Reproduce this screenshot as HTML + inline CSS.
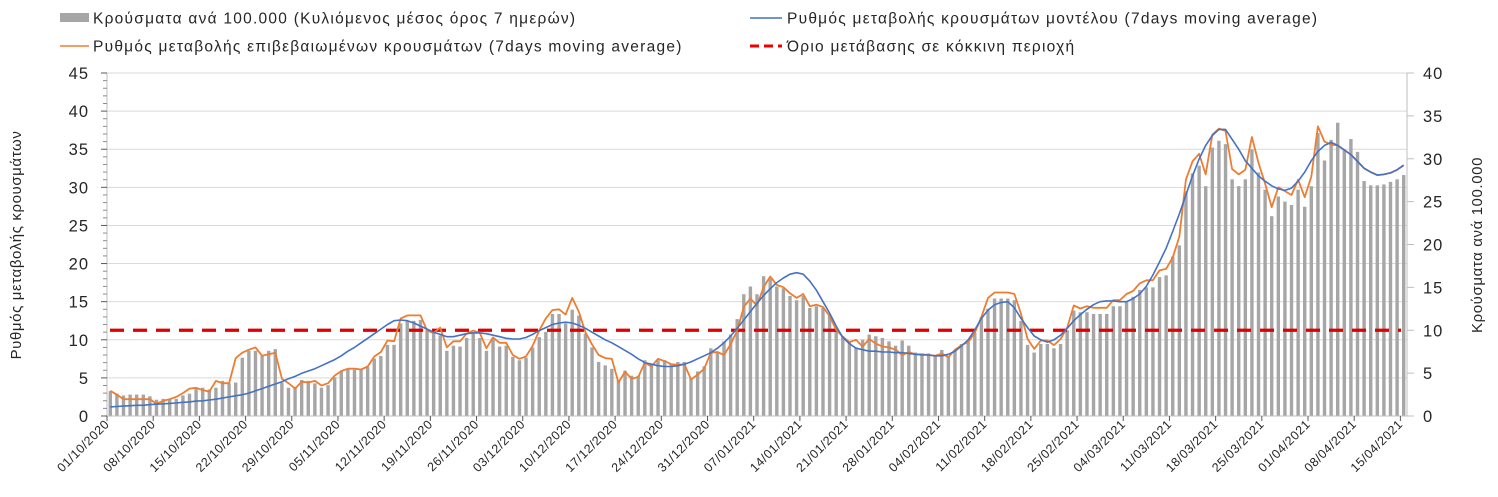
<!DOCTYPE html>
<html><head><meta charset="utf-8"><style>
body{margin:0;background:#fff;}
svg{display:block;font-family:"Liberation Sans",sans-serif;}
</style></head><body>
<svg id="chart" width="1498" height="497" viewBox="0 0 1498 497" xmlns="http://www.w3.org/2000/svg">
<g id="legend" font-size="15.5" fill="#262626" letter-spacing="1.25">
 <g><rect x="60" y="13" width="29" height="9" fill="#a6a6a6"/><text x="93" y="23.5">Κρούσματα ανά 100.000 (Κυλιόμενος μέσος όρος 7 ημερών)</text></g>
 <g><line x1="750" y1="18" x2="782" y2="18" stroke="#4472c4" stroke-width="1.5"/><text x="787" y="23.5">Ρυθμός μεταβολής κρουσμάτων μοντέλου (7days moving average)</text></g>
 <g><line x1="60" y1="46" x2="89" y2="46" stroke="#ed7d31" stroke-width="1.5"/><text x="93" y="51.5">Ρυθμός μεταβολής επιβεβαιωμένων κρουσμάτων (7days moving average)</text></g>
 <g><line x1="750" y1="46" x2="782" y2="46" stroke="#e00" stroke-width="3" stroke-dasharray="9,5"/><text x="787" y="51.5">Όριο μετάβασης σε κόκκινη περιοχή</text></g>
</g>
<text transform="translate(21,245) rotate(-90)" text-anchor="middle" font-size="15" letter-spacing="0.6" fill="#262626">Ρυθμός μεταβολής κρουσμάτων</text>
<text transform="translate(1482,245) rotate(-90)" text-anchor="middle" font-size="15" letter-spacing="0.6" fill="#262626">Κρούσματα ανά 100.000</text>
<g id="grid"></g>
<g id="bars"></g>
<g id="axes"></g>
<g id="lines"></g>
</svg>
<script>
const startDate = [2020, 10, 1];
const leftTicks = [0,5,10,15,20,25,30,35,40,45];
const rightTicks = [0,5,10,15,20,25,30,35,40];
const threshold = 10;
const cases = [2.9,2.6,2.4,2.5,2.5,2.5,2.3,1.9,2.0,2.0,2.0,2.4,2.6,3.2,3.3,3.1,3.3,4.1,3.8,3.9,6.8,7.6,7.6,7.0,7.6,7.8,3.9,3.3,3.4,4.2,4.1,3.8,3.3,3.6,4.5,5.2,5.5,5.4,5.4,5.7,6.7,7.0,8.3,8.3,10.8,11.1,11.1,11.2,10.0,9.8,9.4,7.6,8.2,8.1,9.1,9.8,9.1,7.6,9.1,8.1,8.2,6.9,6.5,6.8,8.0,9.2,9.8,11.9,11.9,10.8,12.4,11.7,9.6,8.0,6.3,5.9,5.5,4.2,5.3,4.7,4.7,6.5,6.0,6.5,6.5,6.1,6.3,6.3,4.4,5.2,5.8,7.9,7.5,8.7,9.5,11.3,14.2,15.1,14.2,16.3,16.0,15.1,14.9,14.0,13.5,14.0,12.6,12.8,12.6,11.8,10.3,9.3,8.6,8.0,8.9,9.5,9.3,9.1,8.7,8.2,8.8,8.2,7.4,7.3,7.3,7.1,7.7,6.9,7.7,8.4,8.6,9.7,11.5,12.5,13.7,13.7,13.7,13.5,11.1,8.3,7.4,8.4,8.4,7.9,8.4,10.0,12.3,12.1,12.1,11.9,11.9,11.9,12.8,12.8,13.3,13.9,14.7,15.0,15.0,16.2,16.4,18.6,19.9,26.2,28.3,29.2,26.8,31.3,32.1,31.7,27.6,26.8,27.6,31.1,28.4,26.4,23.3,25.6,25.0,24.6,26.4,24.4,26.8,33.0,29.8,32.2,34.2,31.1,32.3,30.8,27.4,26.9,26.9,27.0,27.3,27.6,28.1];
const confirmedRate = [3.3,2.8,2.2,2.2,2.2,2.2,2.2,1.6,2.0,2.2,2.5,3.0,3.6,3.7,3.4,3.2,4.6,4.3,4.3,7.6,8.3,8.7,9.0,7.9,8.1,8.3,4.9,4.3,3.6,4.5,4.4,4.6,4.0,4.3,5.3,5.9,6.2,6.2,6.1,6.5,7.8,8.4,9.9,9.8,12.8,13.2,13.2,13.2,11.2,10.9,11.6,9.0,9.8,9.8,10.8,11.2,10.9,8.9,10.3,9.6,9.6,8.0,7.5,7.8,9.2,11.2,12.8,13.9,14.0,13.3,15.5,13.7,11.0,9.4,8.0,7.6,7.5,4.4,5.8,4.9,5.1,7.0,6.5,7.5,7.2,6.8,6.7,6.8,4.8,5.4,6.2,8.3,8.4,8.0,9.4,11.2,14.3,15.4,14.5,16.9,18.3,17.2,16.9,16.1,15.5,16.0,14.4,14.6,14.3,13.1,11.3,10.4,9.7,10.0,9.1,10.1,9.5,9.1,9.0,8.7,8.0,8.4,8.1,8.1,8.0,7.9,8.2,7.7,8.7,9.3,9.7,10.9,13.0,15.5,16.2,16.2,16.2,16.0,13.4,10.1,8.8,9.9,9.9,9.3,10.1,11.6,14.5,14.1,14.4,14.2,14.2,14.2,15.2,15.2,16.0,16.4,17.4,17.8,17.8,19.1,19.3,20.8,23.5,31.0,33.4,34.4,31.7,36.9,37.7,37.4,32.4,31.7,32.3,36.6,33.2,30.5,27.4,30.0,29.5,29.0,31.0,28.7,31.4,38.0,36.0,35.6,35.5,34.9,34.3,33.4,32.5,32.0,31.6,31.7,31.9,32.3,32.9];
const modelRate = [1.2,1.25,1.3,1.35,1.4,1.4,1.5,1.55,1.6,1.65,1.7,1.8,1.85,1.95,2.0,2.1,2.2,2.35,2.5,2.65,2.8,3.0,3.3,3.6,3.9,4.2,4.5,4.9,5.2,5.6,5.9,6.2,6.6,7.0,7.4,7.9,8.5,9.0,9.6,10.2,10.8,11.4,12.0,12.5,12.6,12.5,12.2,11.8,11.4,11.0,10.7,10.4,10.4,10.6,10.8,10.9,10.9,10.8,10.6,10.4,10.2,10.1,10.1,10.3,10.7,11.2,11.6,12.0,12.2,12.3,12.2,11.9,11.5,11.0,10.5,10.0,9.6,9.1,8.6,8.1,7.5,7.0,6.8,6.6,6.5,6.5,6.6,6.8,7.1,7.5,7.9,8.3,8.9,9.6,10.5,11.5,12.6,13.7,14.8,15.8,16.7,17.5,18.1,18.6,18.8,18.6,17.7,16.5,15.0,13.5,11.8,10.3,9.5,8.9,8.7,8.5,8.5,8.4,8.4,8.3,8.3,8.2,8.1,8.0,8.0,7.9,7.9,8.1,8.5,9.2,10.0,11.3,12.8,13.9,14.6,14.9,15.0,14.2,12.8,11.6,10.5,10.0,9.7,10.0,10.6,11.5,12.5,13.3,14.0,14.6,15.0,15.1,15.1,15.0,15.0,15.4,16.0,17.0,18.5,20.2,22.0,24.2,26.5,29.0,31.5,33.7,35.5,36.8,37.6,37.6,36.3,35.0,33.5,32.5,31.5,30.8,30.2,29.8,29.6,29.9,30.8,32.0,33.5,34.7,35.5,35.9,35.5,34.9,34.3,33.4,32.5,32.0,31.6,31.7,31.9,32.3,32.9];

const NS = "http://www.w3.org/2000/svg";
const X0 = 107, X1 = 1407, Y0 = 416, YT = 73;
const n = cases.length;
const bw = (X1 - X0) / 197;
function xC(i){ return X0 + (i + 0.5) * bw; }
function xEdge(i){ return X0 + i * bw; }
function yL(v){ return Y0 - v / 45 * (Y0 - YT); }
function yR(v){ return Y0 - v / 40 * (Y0 - YT); }
function mk(tag, attrs, parent){ const e = document.createElementNS(NS, tag); for (const k in attrs) e.setAttribute(k, attrs[k]); parent.appendChild(e); return e; }

const grid = document.getElementById('grid');
leftTicks.forEach(t => {
  if (t === 0) return;
  const g = mk('line', {x1:X0, x2:X1, y1:yL(t), y2:yL(t), stroke:'#d9d9d9', 'stroke-width':1}, grid);
  
  
});

const bars = document.getElementById('bars');
cases.forEach((v, i) => {
  const r = mk('rect', {x: xC(i) - 1.7, y: yR(v), width: 3.4, height: Y0 - yR(v), fill:'#a6a6a6'}, bars);
  
  
});

const axes = document.getElementById('axes');
mk('line', {x1:X0, x2:X0, y1:YT, y2:Y0, stroke:'#bfbfbf'}, axes);
mk('line', {x1:X1, x2:X1, y1:YT, y2:Y0, stroke:'#bfbfbf'}, axes);
mk('line', {x1:X0, x2:X1, y1:Y0, y2:Y0, stroke:'#bfbfbf'}, axes);
for (let v = 0; v <= 45; v++) {
  const major = v % 5 === 0;
  mk('line', {x1: major ? X0 - 6 : X0 - 4, x2: X0, y1: yL(v), y2: yL(v), stroke: major ? '#595959' : '#8c8c8c'}, axes);
}
leftTicks.forEach(t => {
  const tx = mk('text', {x: 89, y: yL(t) + 6, 'text-anchor':'end', 'font-size':16.5, 'letter-spacing':1, fill:'#262626'}, axes);
  tx.textContent = t;
  
  
});
rightTicks.forEach(t => {
  mk('line', {x1: X1, x2: X1 + 7, y1: yR(t), y2: yR(t), stroke:'#bfbfbf'}, axes);
  const tx = mk('text', {x: 1423, y: yR(t) + 6, 'font-size':16.5, 'letter-spacing':1, fill:'#262626'}, axes);
  tx.textContent = t;
  
  
});
const d0 = new Date(startDate[0], startDate[1]-1, startDate[2]);
for (let i = 0; i < 197; i += 7) {
  const x = xEdge(i);
  mk('line', {x1:x, x2:x, y1:Y0, y2:Y0+5, stroke:'#595959'}, axes);
  const d = new Date(d0.getTime()); d.setDate(d0.getDate() + i);
  const lbl = String(d.getDate()).padStart(2,'0') + '/' + String(d.getMonth()+1).padStart(2,'0') + '/' + d.getFullYear();
  const tx = mk('text', {x: x + 3, y: Y0 + 9, 'text-anchor':'end', 'font-size':12.5, 'letter-spacing':0.5, fill:'#262626', transform:'rotate(-45 ' + (x+3) + ' ' + (Y0+9) + ')'}, axes);
  tx.textContent = lbl;
  
  
}

const lines = document.getElementById('lines');
const th = mk('line', {x1: X0 + 3, x2: X1 - 6, y1: yR(threshold), y2: yR(threshold), stroke:'#e00000', 'stroke-width':3.2, 'stroke-dasharray':'14,9'}, lines);


const po = mk('polyline', {points: confirmedRate.map((v,i)=>xC(i).toFixed(1)+','+yL(v).toFixed(1)).join(' '), fill:'none', stroke:'#ed7d31', 'stroke-width':1.8, 'stroke-linejoin':'round'}, lines);


const pb = mk('polyline', {points: modelRate.map((v,i)=>xC(i).toFixed(1)+','+yL(v).toFixed(1)).join(' '), fill:'none', stroke:'#4472c4', 'stroke-width':1.6, 'stroke-linejoin':'round'}, lines);


</script>
</body></html>
